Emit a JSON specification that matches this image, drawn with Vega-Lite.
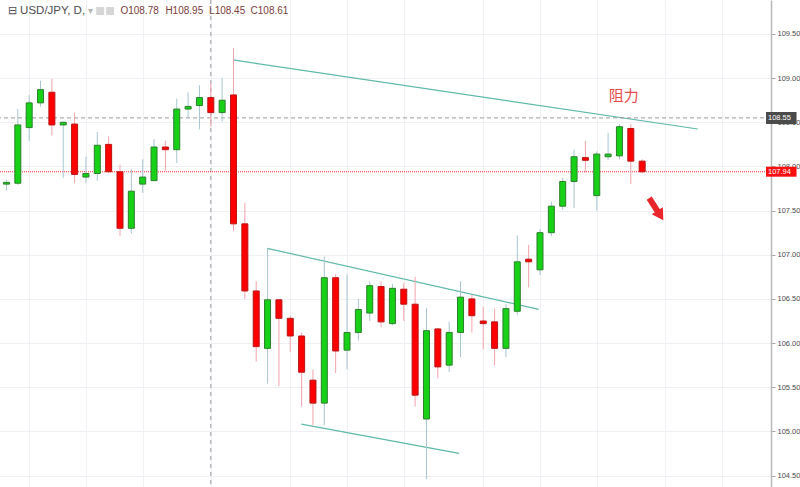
{
  "$schema": "https://vega.github.io/schema/vega-lite/v6.json",
  "width": 771,
  "height": 487,
  "autosize": {"type": "none"},
  "padding": {"left": 0, "top": 0, "right": 29, "bottom": 0},
  "background": "#ffffff",
  "config": {"view": {"stroke": null}},
  "datasets": {
    "candles": [
      {"i": 0, "o": 107.80, "h": 107.85, "l": 107.73, "c": 107.82},
      {"i": 1, "o": 107.81, "h": 108.65, "l": 107.79, "c": 108.47},
      {"i": 2, "o": 108.44, "h": 108.81, "l": 108.29, "c": 108.72},
      {"i": 3, "o": 108.72, "h": 108.97, "l": 108.68, "c": 108.87},
      {"i": 4, "o": 108.84, "h": 108.99, "l": 108.35, "c": 108.47},
      {"i": 5, "o": 108.47, "h": 108.51, "l": 107.87, "c": 108.50},
      {"i": 6, "o": 108.48, "h": 108.61, "l": 107.81, "c": 107.91},
      {"i": 7, "o": 107.88, "h": 108.11, "l": 107.81, "c": 107.92},
      {"i": 8, "o": 107.92, "h": 108.39, "l": 107.84, "c": 108.24},
      {"i": 9, "o": 108.25, "h": 108.34, "l": 107.93, "c": 107.94},
      {"i": 10, "o": 107.94, "h": 108.02, "l": 107.21, "c": 107.30},
      {"i": 11, "o": 107.30, "h": 107.97, "l": 107.24, "c": 107.72},
      {"i": 12, "o": 107.80, "h": 108.08, "l": 107.70, "c": 107.88},
      {"i": 13, "o": 107.84, "h": 108.31, "l": 107.83, "c": 108.22},
      {"i": 14, "o": 108.22, "h": 108.29, "l": 107.95, "c": 108.19},
      {"i": 15, "o": 108.19, "h": 108.77, "l": 108.04, "c": 108.65},
      {"i": 16, "o": 108.65, "h": 108.84, "l": 108.55, "c": 108.68},
      {"i": 17, "o": 108.69, "h": 108.92, "l": 108.42, "c": 108.78},
      {"i": 18, "o": 108.78, "h": 108.95, "l": 108.45, "c": 108.61},
      {"i": 19, "o": 108.61, "h": 109.00, "l": 108.51, "c": 108.75},
      {"i": 20, "o": 108.81, "h": 109.34, "l": 107.27, "c": 107.35},
      {"i": 21, "o": 107.35, "h": 107.59, "l": 106.50, "c": 106.59},
      {"i": 22, "o": 106.59, "h": 106.70, "l": 105.79, "c": 105.96},
      {"i": 23, "o": 105.94, "h": 107.07, "l": 105.54, "c": 106.49},
      {"i": 24, "o": 106.49, "h": 106.50, "l": 105.51, "c": 106.28},
      {"i": 25, "o": 106.28, "h": 106.31, "l": 105.90, "c": 106.08},
      {"i": 26, "o": 106.08, "h": 106.12, "l": 105.28, "c": 105.67},
      {"i": 27, "o": 105.58, "h": 105.70, "l": 105.07, "c": 105.32},
      {"i": 28, "o": 105.32, "h": 106.98, "l": 105.07, "c": 106.74},
      {"i": 29, "o": 106.74, "h": 106.78, "l": 105.66, "c": 105.91},
      {"i": 30, "o": 105.92, "h": 106.78, "l": 105.70, "c": 106.12},
      {"i": 31, "o": 106.12, "h": 106.50, "l": 106.03, "c": 106.38},
      {"i": 32, "o": 106.34, "h": 106.70, "l": 106.25, "c": 106.65},
      {"i": 33, "o": 106.64, "h": 106.70, "l": 106.18, "c": 106.24},
      {"i": 34, "o": 106.22, "h": 106.67, "l": 106.20, "c": 106.62},
      {"i": 35, "o": 106.61, "h": 106.68, "l": 106.25, "c": 106.44},
      {"i": 36, "o": 106.44, "h": 106.75, "l": 105.28, "c": 105.41},
      {"i": 37, "o": 105.14, "h": 106.40, "l": 104.46, "c": 106.14},
      {"i": 38, "o": 106.16, "h": 106.17, "l": 105.60, "c": 105.73},
      {"i": 39, "o": 105.75, "h": 106.24, "l": 105.67, "c": 106.12},
      {"i": 40, "o": 106.12, "h": 106.70, "l": 105.84, "c": 106.52},
      {"i": 41, "o": 106.50, "h": 106.55, "l": 106.12, "c": 106.31},
      {"i": 42, "o": 106.25, "h": 106.41, "l": 105.93, "c": 106.22},
      {"i": 43, "o": 106.24, "h": 106.39, "l": 105.75, "c": 105.94},
      {"i": 44, "o": 105.94, "h": 106.44, "l": 105.84, "c": 106.39},
      {"i": 45, "o": 106.36, "h": 107.22, "l": 106.32, "c": 106.92},
      {"i": 46, "o": 106.95, "h": 107.11, "l": 106.63, "c": 106.92},
      {"i": 47, "o": 106.83, "h": 107.29, "l": 106.77, "c": 107.25},
      {"i": 48, "o": 107.25, "h": 107.60, "l": 107.21, "c": 107.55},
      {"i": 49, "o": 107.55, "h": 107.87, "l": 107.51, "c": 107.83},
      {"i": 50, "o": 107.83, "h": 108.19, "l": 107.53, "c": 108.11},
      {"i": 51, "o": 108.10, "h": 108.29, "l": 107.93, "c": 108.07},
      {"i": 52, "o": 107.67, "h": 108.17, "l": 107.50, "c": 108.14},
      {"i": 53, "o": 108.11, "h": 108.38, "l": 108.07, "c": 108.14},
      {"i": 54, "o": 108.12, "h": 108.48, "l": 108.08, "c": 108.45},
      {"i": 55, "o": 108.43, "h": 108.48, "l": 107.80, "c": 108.06},
      {"i": 56, "o": 108.06, "h": 108.08, "l": 107.92, "c": 107.94}
    ],
    "trend": [
      {"x1": 19.96, "y1": 109.206, "x2": 60.9, "y2": 108.424},
      {"x1": 22.97, "y1": 107.073, "x2": 46.89, "y2": 106.382},
      {"x1": 25.98, "y1": 105.083, "x2": 39.87, "y2": 104.751}
    ],
    "header": [
      {"x": 0.1, "y": 109.76, "t": "⊟", "k": "label", "s": 11},
      {"x": 1.2, "y": 109.76, "t": "USD/JPY, D,", "k": "label", "s": 11.5},
      {"x": 7.15, "y": 109.76, "t": "▾", "k": "faint", "s": 10},
      {"x": 10.04, "y": 109.76, "t": "O108.78", "k": "value", "s": 10},
      {"x": 14.0, "y": 109.76, "t": "H108.95", "k": "value", "s": 10},
      {"x": 17.85, "y": 109.76, "t": "L108.45", "k": "value", "s": 10},
      {"x": 21.5, "y": 109.76, "t": "C108.61", "k": "value", "s": 10}
    ],
    "icons": [
      {"x": 8.26, "y": 109.76},
      {"x": 9.13, "y": 109.76}
    ],
    "tags": [
      {"x1": 66.91, "x2": 69.6, "y1": 108.617, "y2": 108.481, "ty": 108.55, "t": "108.55", "k": "last"},
      {"x1": 66.91, "x2": 69.6, "y1": 107.997, "y2": 107.884, "ty": 107.94, "t": "107.94", "k": "price"}
    ]
  },
  "encoding": {
    "x": {"type": "quantitative", "scale": {"domain": [-0.13, 66.91], "nice": false, "zero": false}},
    "y": {"type": "quantitative", "scale": {"domain": [104.37, 109.885], "nice": false, "zero": false}}
  },
  "layer": [
    {
      "data": {"name": "candles"},
      "mark": {"type": "rule", "opacity": 0},
      "encoding": {
        "x": {"field": "i", "type": "quantitative",
          "axis": {"orient": "bottom", "values": [2, 7, 12, 18, 25, 30, 35, 42, 47, 52, 58, 63], "labels": false, "ticks": false, "domain": false, "title": null, "grid": true, "gridColor": "#eef0f3", "gridWidth": 1, "zindex": 0}},
        "y": {"field": "h", "type": "quantitative",
          "axis": {"orient": "right", "values": [104.5, 105, 105.5, 106, 106.5, 107, 107.5, 108, 108.5, 109, 109.5], "format": ".2f", "title": null, "grid": true, "gridColor": "#eef0f3", "gridWidth": 1, "labelFont": "Liberation Sans", "labelFontSize": 7.5, "labelColor": "#4a4a4a", "labelPadding": 2, "tickColor": "#a8a8a8", "tickSize": 4, "domainColor": "#b8b8b8", "domainWidth": 1.5, "zindex": 0}}
      }
    },
    {
      "data": {"name": "trend"},
      "mark": {"type": "rule", "color": "#5fb9a9", "strokeWidth": 1.2},
      "encoding": {
        "x": {"field": "x1", "type": "quantitative"},
        "y": {"field": "y1", "type": "quantitative"},
        "x2": {"field": "x2"},
        "y2": {"field": "y2"}
      }
    },
    {
      "data": {"values": [{"v": 18}]},
      "mark": {"type": "rule", "color": "#9a9ca3", "strokeDash": [4, 4], "strokeWidth": 1},
      "encoding": {"x": {"field": "v", "type": "quantitative"}}
    },
    {
      "data": {"values": [{"v": 108.55}]},
      "mark": {"type": "rule", "color": "#9a9a9a", "strokeDash": [4, 3], "strokeWidth": 1},
      "encoding": {"y": {"field": "v", "type": "quantitative"}}
    },
    {
      "data": {"values": [{"v": 107.94}]},
      "mark": {"type": "rule", "color": "#ff2a2a", "strokeDash": [1, 1], "strokeWidth": 1},
      "encoding": {"y": {"field": "v", "type": "quantitative"}}
    },
    {
      "data": {"name": "candles"},
      "mark": {"type": "rule", "strokeWidth": 1},
      "encoding": {
        "x": {"field": "i", "type": "quantitative"},
        "y": {"field": "l", "type": "quantitative"},
        "y2": {"field": "h"},
        "color": {"condition": {"test": "datum.c >= datum.o", "value": "#a6c6cf"}, "value": "#f2a3ab"}
      }
    },
    {
      "data": {"name": "candles"},
      "mark": {"type": "bar", "size": 6, "strokeWidth": 1},
      "encoding": {
        "x": {"field": "i", "type": "quantitative"},
        "y": {"field": "o", "type": "quantitative"},
        "y2": {"field": "c"},
        "fill": {"condition": {"test": "datum.c >= datum.o", "value": "#17d117"}, "value": "#ff0000"},
        "stroke": {"condition": {"test": "datum.c >= datum.o", "value": "#2b7f2b"}, "value": "#b81414"}
      }
    },
    {
      "data": {"values": [{"x": 54.37, "y": 108.798, "t": "阻力"}]},
      "mark": {"type": "text", "font": "Noto Sans CJK SC", "fontSize": 15, "color": "#e54b4b", "align": "center", "baseline": "middle"},
      "encoding": {
        "x": {"field": "x", "type": "quantitative"},
        "y": {"field": "y", "type": "quantitative"},
        "text": {"field": "t"}
      }
    },
    {
      "data": {"values": [{"x1": 56.62, "y1": 107.64, "x2": 57.42, "y2": 107.48}]},
      "mark": {"type": "rule", "color": "#e8262b", "strokeWidth": 6, "strokeCap": "butt"},
      "encoding": {
        "x": {"field": "x1", "type": "quantitative"},
        "y": {"field": "y1", "type": "quantitative"},
        "x2": {"field": "x2"},
        "y2": {"field": "y2"}
      }
    },
    {
      "data": {"values": [{"x": 57.6, "y": 107.445}]},
      "mark": {"type": "point", "shape": "triangle-up", "filled": true, "color": "#e8262b", "opacity": 1, "size": 170, "angle": 148},
      "encoding": {
        "x": {"field": "x", "type": "quantitative"},
        "y": {"field": "y", "type": "quantitative"}
      }
    },
    {
      "data": {"name": "icons"},
      "mark": {"type": "square", "filled": true, "color": "#d6d6d6", "opacity": 1, "size": 64},
      "encoding": {
        "x": {"field": "x", "type": "quantitative"},
        "y": {"field": "y", "type": "quantitative"}
      }
    },
    {
      "data": {"name": "header"},
      "mark": {"type": "text", "font": "Liberation Sans", "align": "left", "baseline": "middle"},
      "encoding": {
        "x": {"field": "x", "type": "quantitative"},
        "y": {"field": "y", "type": "quantitative"},
        "text": {"field": "t"},
        "size": {"field": "s", "type": "quantitative", "scale": null, "legend": null},
        "color": {"field": "k", "type": "nominal", "scale": {"domain": ["label", "faint", "value"], "range": ["#4d4d4d", "#b5b5b5", "#7a3c3c"]}, "legend": null}
      }
    },
    {
      "data": {"name": "tags"},
      "mark": {"type": "rect"},
      "encoding": {
        "x": {"field": "x1", "type": "quantitative"},
        "x2": {"field": "x2"},
        "y": {"field": "y1", "type": "quantitative"},
        "y2": {"field": "y2"},
        "fill": {"field": "k", "type": "nominal", "scale": {"domain": ["last", "price"], "range": ["#4b4b4b", "#fa0f0f"]}, "legend": null}
      }
    },
    {
      "data": {"name": "tags"},
      "mark": {"type": "text", "font": "Liberation Sans", "fontSize": 7.5, "color": "#ffffff", "align": "left", "baseline": "middle", "dx": 2},
      "encoding": {
        "x": {"field": "x1", "type": "quantitative"},
        "y": {"field": "ty", "type": "quantitative"},
        "text": {"field": "t"}
      }
    }
  ]
}
